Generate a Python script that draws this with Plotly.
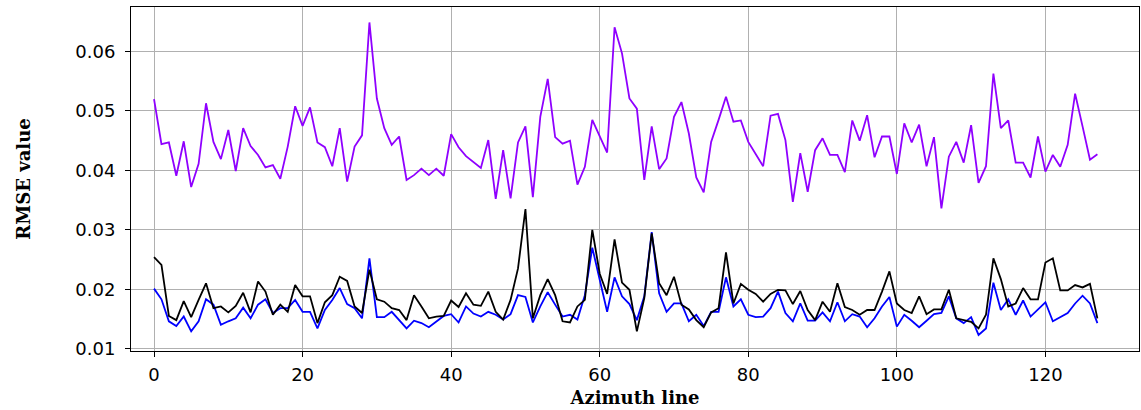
import plotly.graph_objects as go

azimuth = list(range(128))

rmse_purple = [
    0.0520, 0.0444, 0.0447, 0.0391, 0.0449, 0.0372, 0.0411, 0.0513, 0.0448, 0.0419,
    0.0468, 0.0399, 0.0471, 0.0441, 0.0426, 0.0405, 0.0409, 0.0386, 0.0440, 0.0508,
    0.0475, 0.0506, 0.0447, 0.0439, 0.0407, 0.0471, 0.0381, 0.0440, 0.0459, 0.0649,
    0.0521, 0.0471, 0.0443, 0.0457, 0.0384, 0.0392, 0.0403, 0.0392, 0.0403, 0.0391,
    0.0461, 0.0439, 0.0424, 0.0414, 0.0404, 0.0451, 0.0352, 0.0434, 0.0353, 0.0447,
    0.0474, 0.0355, 0.0490, 0.0554, 0.0456, 0.0445, 0.0450, 0.0376, 0.0406, 0.0485,
    0.0458, 0.0430, 0.0641, 0.0597, 0.0521, 0.0504, 0.0384, 0.0474, 0.0402, 0.0420,
    0.0490, 0.0515, 0.0462, 0.0388, 0.0363, 0.0448, 0.0485, 0.0524, 0.0482, 0.0484,
    0.0448, 0.0427, 0.0407, 0.0492, 0.0495, 0.0451, 0.0347, 0.0429, 0.0364, 0.0434,
    0.0454, 0.0426, 0.0426, 0.0397, 0.0484, 0.0450, 0.0493, 0.0422, 0.0457, 0.0457,
    0.0394, 0.0479, 0.0447, 0.0477, 0.0407, 0.0456, 0.0336, 0.0423, 0.0448, 0.0413,
    0.0476, 0.0379, 0.0407, 0.0563, 0.0471, 0.0484, 0.0413, 0.0413, 0.0388, 0.0457,
    0.0398, 0.0426, 0.0406, 0.0443, 0.0529, 0.0474, 0.0418, 0.0427,
]

rmse_black = [
    0.0254, 0.0241, 0.0155, 0.0148, 0.0180, 0.0153, 0.0182, 0.0210, 0.0168, 0.0171,
    0.0161, 0.0172, 0.0194, 0.0161, 0.0213, 0.0196, 0.0157, 0.0174, 0.0162, 0.0207,
    0.0188, 0.0188, 0.0143, 0.0178, 0.0190, 0.0221, 0.0214, 0.0171, 0.0160, 0.0233,
    0.0183, 0.0179, 0.0168, 0.0165, 0.0148, 0.0190, 0.0171, 0.0151, 0.0154, 0.0155,
    0.0181, 0.0170, 0.0193, 0.0174, 0.0172, 0.0196, 0.0162, 0.0149, 0.0182, 0.0235,
    0.0335, 0.0151, 0.0190, 0.0217, 0.0190, 0.0146, 0.0144, 0.0171, 0.0182, 0.0300,
    0.0226, 0.0192, 0.0284, 0.0211, 0.0199, 0.0129, 0.0185, 0.0294, 0.0210, 0.0190,
    0.0221, 0.0174, 0.0166, 0.0148, 0.0136, 0.0161, 0.0168, 0.0262, 0.0176, 0.0209,
    0.0199, 0.0192, 0.0179, 0.0192, 0.0199, 0.0198, 0.0175, 0.0197, 0.0165, 0.0148,
    0.0179, 0.0162, 0.0210, 0.0170, 0.0165, 0.0157, 0.0165, 0.0165, 0.0196, 0.0230,
    0.0176, 0.0165, 0.0160, 0.0188, 0.0158, 0.0166, 0.0166, 0.0199, 0.0151, 0.0148,
    0.0145, 0.0134, 0.0157, 0.0252, 0.0217, 0.0171, 0.0176, 0.0202, 0.0183, 0.0183,
    0.0245, 0.0252, 0.0198, 0.0198, 0.0207, 0.0203, 0.0209, 0.0151,
]

rmse_blue = [
    0.0201, 0.0183, 0.0146, 0.0138, 0.0154, 0.0129, 0.0146, 0.0183, 0.0174, 0.0140,
    0.0146, 0.0151, 0.0169, 0.0151, 0.0174, 0.0183, 0.0160, 0.0168, 0.0168, 0.0182,
    0.0162, 0.0162, 0.0134, 0.0165, 0.0182, 0.0202, 0.0175, 0.0168, 0.0151, 0.0252,
    0.0153, 0.0153, 0.0162, 0.0148, 0.0134, 0.0147, 0.0143, 0.0136, 0.0146, 0.0155,
    0.0158, 0.0144, 0.0171, 0.0159, 0.0154, 0.0162, 0.0157, 0.0149, 0.0158, 0.0190,
    0.0187, 0.0144, 0.0171, 0.0195, 0.0174, 0.0154, 0.0157, 0.0149, 0.0190, 0.0270,
    0.0216, 0.0162, 0.0220, 0.0188, 0.0175, 0.0148, 0.0188, 0.0296, 0.0193, 0.0162,
    0.0176, 0.0176, 0.0146, 0.0157, 0.0138, 0.0162, 0.0162, 0.0220, 0.0171, 0.0183,
    0.0157, 0.0153, 0.0154, 0.0168, 0.0196, 0.0160, 0.0146, 0.0176, 0.0147, 0.0147,
    0.0161, 0.0146, 0.0178, 0.0146, 0.0158, 0.0154, 0.0136, 0.0151, 0.0171, 0.0187,
    0.0137, 0.0157, 0.0147, 0.0136, 0.0147, 0.0158, 0.0160, 0.0188, 0.0151, 0.0143,
    0.0153, 0.0123, 0.0134, 0.0211, 0.0165, 0.0183, 0.0157, 0.0181, 0.0154, 0.0166,
    0.0178, 0.0146, 0.0153, 0.0160, 0.0176, 0.0189, 0.0176, 0.0143,
]

x_ticks = [0, 20, 40, 60, 80, 100, 120]
y_ticks = [0.01, 0.02, 0.03, 0.04, 0.05, 0.06]

fig = go.Figure()
fig.add_trace(go.Scatter(x=azimuth, y=rmse_purple, mode="lines",
                         line=dict(color="#8F00FF", width=1.8), showlegend=False))
fig.add_trace(go.Scatter(x=azimuth, y=rmse_blue, mode="lines",
                         line=dict(color="#0000FF", width=1.8), showlegend=False))
fig.add_trace(go.Scatter(x=azimuth, y=rmse_black, mode="lines",
                         line=dict(color="#000000", width=1.8), showlegend=False))

axis_common = dict(
    showgrid=True, gridcolor="#b0b0b0", gridwidth=1,
    showline=True, linecolor="black", linewidth=1, mirror=True,
    ticks="outside", ticklen=5, tickcolor="black",
    zeroline=False,
    tickfont=dict(family="DejaVu Sans", size=18, color="black"),
)

fig.update_layout(
    width=1141, height=410,
    margin=dict(l=131, r=2, t=7, b=59),
    paper_bgcolor="white", plot_bgcolor="white",
    xaxis=dict(range=[-3.1, 132.6], tickvals=x_ticks, ticklabelstandoff=2,
               title=dict(text="<b>Azimuth line</b>", standoff=7,
                          font=dict(family="DejaVu Serif", size=18, color="black")),
               **axis_common),
    yaxis=dict(range=[0.0096, 0.0675], tickvals=y_ticks, tickformat=".2f",
               ticklabelstandoff=6,
               title=dict(text="<b>RMSE value</b>", standoff=40,
                          font=dict(family="DejaVu Serif", size=18, color="black")),
               **axis_common),
)

fig.write_html("out.html")
